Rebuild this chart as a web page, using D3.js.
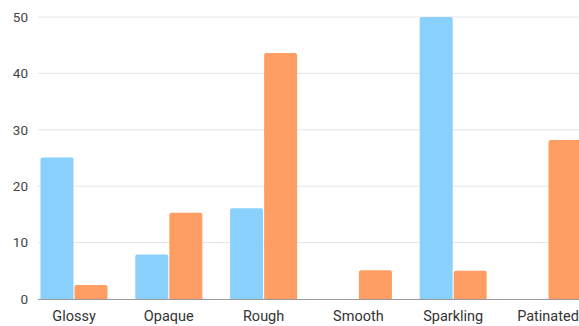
<!DOCTYPE html>
<html><head><meta charset="utf-8">
<script src="https://cdn.jsdelivr.net/npm/d3@7"></script>
<style>html,body{margin:0;padding:0;background:#fff;overflow:hidden}</style>
</head><body>
<svg id="c" width="579" height="326"></svg>
<script>
const categories = ["Glossy","Opaque","Rough","Smooth","Sparkling","Patinated"];
const seriesNames = ["A","B"];
const seriesA = [25.1, 7.9, 16.1, 0, 50, 0];
const seriesB = [2.5, 15.3, 43.6, 5.1, 5.0, 28.2];
const yTicks = [0,10,20,30,40,50];
const colors = ["#89d1fc","#ff9e64"];

const svg = d3.select("#c");
const y = d3.scaleLinear().domain([0,50]).range([299,17]);
const x0 = d3.scaleBand().domain(categories).range([26.6,595.4]).padding(0);
const groupW = 67;
const x1 = d3.scaleBand().domain(seriesNames).range([0,groupW]).paddingInner(0.03);
const font = "Roboto, 'Noto Sans', sans-serif";

// gridlines
svg.append("g").selectAll("line").data(yTicks.filter(t=>t>0)).join("line")
  .attr("x1",38).attr("x2",579).attr("y1",y=>0).attr("y1",d=>y(d)).attr("y2",d=>y(d))
  .attr("stroke","#e4e4e4").attr("stroke-width",1);

// y labels
svg.append("g").selectAll("text").data(yTicks).join("text")
  .attr("x",28).attr("y",d=>y(d)).attr("dy","0.35em")
  .attr("text-anchor","end").attr("font-family",font).attr("font-size",13.5)
  .attr("fill","#444").text(d=>d);

// bars
const data = categories.map((c,i)=>({c, vals:[seriesA[i], seriesB[i]]}));
const g = svg.append("g").selectAll("g").data(data).join("g")
  .attr("transform",d=>`translate(${x0(d.c)+(x0.bandwidth()-groupW)/2},0)`);
g.selectAll("path").data(d=>d.vals.map((v,j)=>({v,s:seriesNames[j],j}))).join("path")
  .attr("fill",d=>colors[d.j])
  .attr("d",d=>{
    if(d.v<=0) return "";
    const bx=x1(d.s), bw=x1.bandwidth(), top=y(d.v), bot=y(0), r=2;
    return `M${bx},${bot}V${top+r}Q${bx},${top} ${bx+r},${top}H${bx+bw-r}Q${bx+bw},${top} ${bx+bw},${top+r}V${bot}Z`;
  });

// baseline
svg.append("line").attr("x1",38).attr("x2",579).attr("y1",y(0)+0.5).attr("y2",y(0)+0.5)
  .attr("stroke","#9a9a9a").attr("stroke-width",1);

// x labels
svg.append("g").selectAll("text").data(categories).join("text")
  .attr("x",d=>x0(d)+x0.bandwidth()/2).attr("y",316).attr("dy","0.35em")
  .attr("text-anchor","middle").attr("font-family",font).attr("font-size",14.5)
  .attr("fill","#333").text(d=>d);
</script>
</body></html>
